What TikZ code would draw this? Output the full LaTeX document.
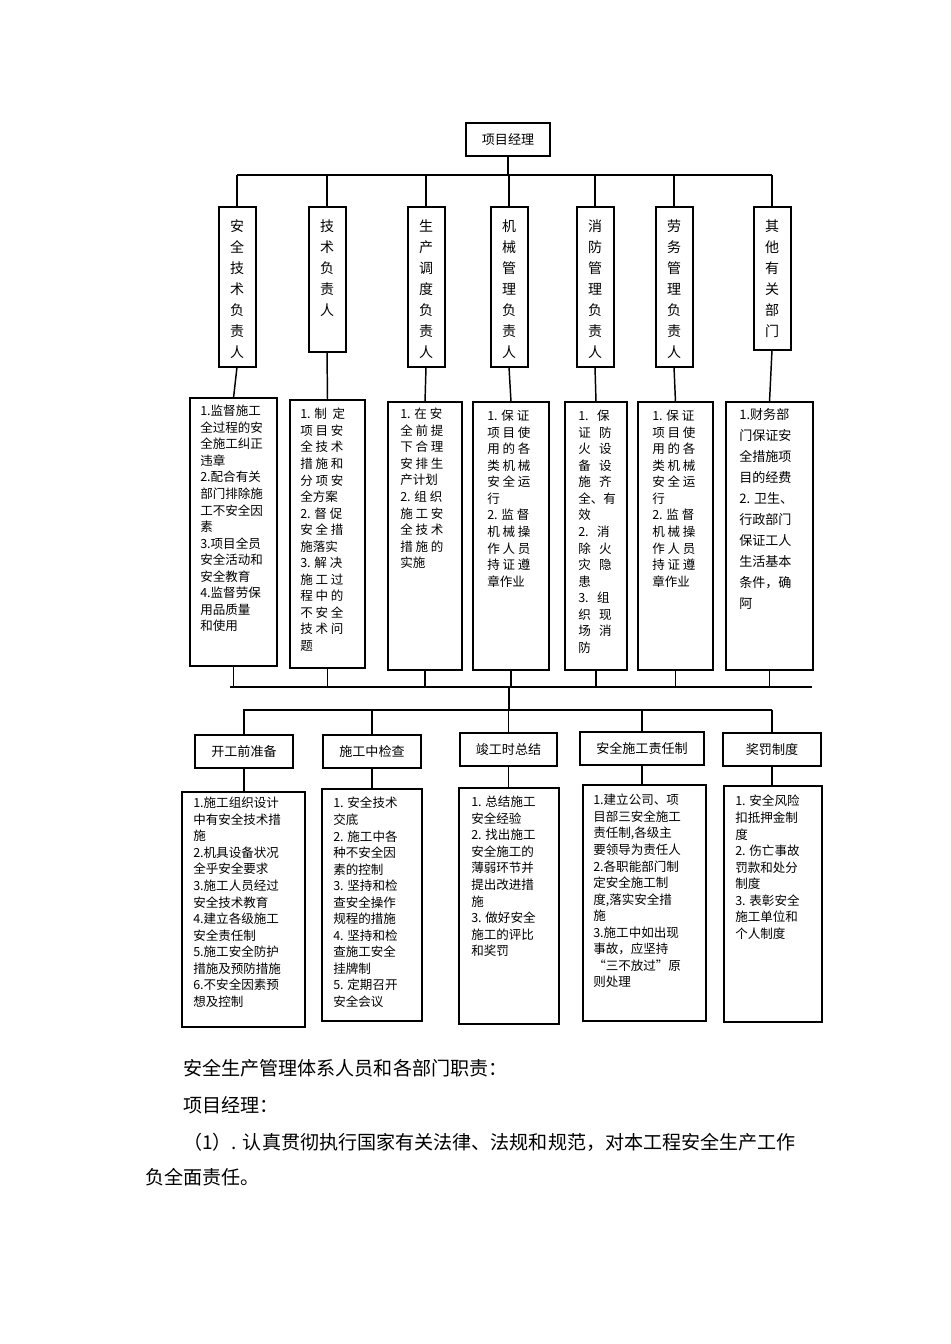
\documentclass[tikz,border=0pt]{standalone}
\usepackage{fontspec}
\setmainfont{Noto Sans CJK SC}
\begin{document}
\begin{tikzpicture}[x=0.75pt,y=-0.75pt,
  bx/.style={draw,line width=1.5pt},
  ln/.style={line width=1.1pt},
  vt/.style={font=\fontsize{10.5}{15.8}\selectfont,align=center,anchor=north,inner sep=0pt},
  bt/.style={font=\fontsize{9.4}{12.4}\selectfont,align=left,anchor=north west,inner sep=0pt},
  pt/.style={font=\fontsize{14.3}{16}\selectfont,anchor=west,inner sep=0pt}]
\useasboundingbox (0,0) rectangle (950,1344);
\node[bx,minimum width=84*0.75pt,minimum height=33*0.75pt,font=\fontsize{9.8}{12}\selectfont] (pm) at (508,139.5) {项目经理};
% row 2
\foreach \n/\x/\yb/\t in {a/237/367/安\\全\\技\\术\\负\\责\\人, b/327/352/技\\术\\负\\责\\人, c/426/367/生\\产\\调\\度\\负\\责\\人, d/509/367/机\\械\\管\\理\\负\\责\\人, e/595/367/消\\防\\管\\理\\负\\责\\人, f/674/367/劳\\务\\管\\理\\负\\责\\人, g/772/350/其\\他\\有\\关\\部\\门}{
  \draw[bx] (\x-18.5,207) rectangle (\x+18.5,\yb);
  \coordinate (r\n t) at (\x,207); \coordinate (r\n b) at (\x,\yb);
  \node[vt] (v\n) at (\x,219) {\t};
}
\coordinate (bus1) at (508,175);
\draw[ln] (pm.south) -- (bus1);
\draw[ln] (237,175) -- (772,175);
\foreach \n in {a,b,c,d,e,f,g}{\draw[ln] (r\n t) -- (r\n t |- bus1);}
% row 3
\foreach \n/\xa/\xb/\ya/\yb in {a/190/277/398/666, b/290/365/400/668, c/388/462/402/670, d/473/549/402/670, e/565/627/402/670, f/638/713/402/670, g/726/813/402/670}{
  \draw[bx] (\xa,\ya) rectangle (\xb,\yb);
  \coordinate (s\n t) at ({(\xa+\xb)/2},\ya); \coordinate (s\n b) at ({(\xa+\xb)/2},\yb);
}
\node[bt] (ta) at (200,405) {1.监督施工\\全过程的安\\全施工纠正\\违章\\2.配合有关\\部门排除施\\工不安全因\\素\\3.项目全员\\安全活动和\\安全教育\\4.监督劳保\\用品质量\\和使用};
\node[bt] (tb) at (300,408) {1. 制\ \ 定\\项\ 目\ 安\\全\ 技\ 术\\措\ 施\ 和\\分\ 项\ 安\\全方案\\2. 督\ 促\\安\ 全\ 措\\施落实\\3. 解\ 决\\施\ 工\ 过\\程\ 中\ 的\\不\ 安\ 全\\技\ 术\ 问\\题};
\node[bt] (tc) at (400,408) {1. 在\ 安\\全\ 前\ 提\\下\ 合\ 理\\安\ 排\ 生\\产计划\\2. 组\ 织\\施\ 工\ 安\\全\ 技\ 术\\措\ 施\ 的\\实施};
\node[bt] (td) at (487,410) {1. 保\ 证\\项\ 目\ 使\\用\ 的\ 各\\类\ 机\ 械\\安\ 全\ 运\\行\\2. 监\ 督\\机\ 械\ 操\\作\ 人\ 员\\持\ 证\ 遵\\章作业};
\node[bt] (te) at (578,410) {1.\ \ \ 保\\证\ \ \ 防\\火\ \ \ 设\\备\ \ \ 设\\施\ \ \ 齐\\全、有\\效\\2.\ \ \ 消\\除\ \ \ 火\\灾\ \ \ 隐\\患\\3.\ \ \ 组\\织\ \ \ 现\\场\ \ \ 消\\防};
\node[bt] (tf) at (652,410) {1. 保\ 证\\项\ 目\ 使\\用\ 的\ 各\\类\ 机\ 械\\安\ 全\ 运\\行\\2. 监\ 督\\机\ 械\ 操\\作\ 人\ 员\\持\ 证\ 遵\\章作业};
\node[bt,font=\fontsize{9.8}{15.8}\selectfont] (tg) at (739,408) {1.财务部\\门保证安\\全措施项\\目的经费\\2. 卫生、\\行政部门\\保证工人\\生活基本\\条件，确\\阿};
\foreach \n in {a,b,c,d,e,f,g}{\draw[ln] (r\n b) -- (s\n t);}
\coordinate (bus2) at (509,687);
\draw[ln] (230,687) -- (812,687);
\draw[ln] (233.5,666) -- (233.5,687);
\foreach \n in {b,c,d,e,f,g}{\draw[ln] (s\n b) -- (s\n b |- bus2);}
\coordinate (bus3) at (509,710);
\draw[ln] (bus2) -- (bus3);
\draw[ln] (243,710) -- (772,710);
% row 4
\foreach \n/\x/\w/\y/\t in {a/244/98/751.5/开工前准备, b/372/98/751.5/施工中检查, c/508.5/97/749.5/竣工时总结, d/642/124/748.5/安全施工责任制, e/772/98/749.5/奖罚制度}{
  \node[bx,minimum width=\w*0.75pt,minimum height=33*0.75pt,inner sep=0pt,font=\fontsize{9.8}{12}\selectfont] (h\n) at (\x,\y) {\t};
  \draw[ln] (h\n.north) -- (h\n.north |- bus3);
}
% row 5
\foreach \n/\xa/\xb/\ya/\yb in {a/182/305/792/1027, b/322/422/789/1021, c/459/559/788/1024, d/583/706/785/1021, e/724/822/786/1022}{
  \draw[bx] (\xa,\ya) rectangle (\xb,\yb);
  \coordinate (u\n) at ({(\xa+\xb)/2},\ya);
}
\foreach \n in {a,b,c,d,e}{\draw[ln] (h\n.south) -- (h\n.south |- u\n);}
\node[bt] (wa) at (193,797) {1.施工组织设计\\中有安全技术措\\施\\2.机具设备状况\\全乎安全要求\\3.施工人员经过\\安全技术教育\\4.建立各级施工\\安全责任制\\5.施工安全防护\\措施及预防措施\\6.不安全因素预\\想及控制};
\node[bt] (wb) at (333,797) {1. 安全技术\\交底\\2. 施工中各\\种不安全因\\素的控制\\3. 坚持和检\\查安全操作\\规程的措施\\4. 坚持和检\\查施工安全\\挂牌制\\5. 定期召开\\安全会议};
\node[bt] (wc) at (471,796) {1. 总结施工\\安全经验\\2. 找出施工\\安全施工的\\薄弱环节并\\提出改进措\\施\\3. 做好安全\\施工的评比\\和奖罚};
\node[bt] (wd) at (593,794) {1.建立公司、项\\目部三安全施工\\责任制,各级主\\要领导为责任人\\2.各职能部门制\\定安全施工制\\度,落实安全措\\施\\3.施工中如出现\\事故，应坚持\\“三不放过”原\\则处理};
\node[bt] (we) at (735,795) {1. 安全风险\\扣抵押金制\\度\\2. 伤亡事故\\罚款和处分\\制度\\3. 表彰安全\\施工单位和\\个人制度};
% text below
\node[pt] (p1) at (183,1068) {安全生产管理体系人员和各部门职责：};
\node[pt] (p2) at (183,1105) {项目经理：};
\node[pt] (p3) at (183,1142) {（1）. 认真贯彻执行国家有关法律、法规和规范，对本工程安全生产工作};
\node[pt] (p4) at (145,1177) {负全面责任。};
\end{tikzpicture}
\end{document}
